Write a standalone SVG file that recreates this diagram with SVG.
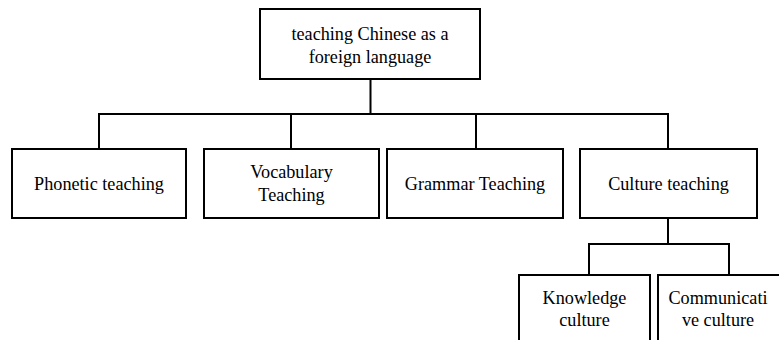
<svg xmlns="http://www.w3.org/2000/svg" width="779" height="340" viewBox="0 0 779 340">
<style>
.box{fill:#fff;stroke:#000;stroke-width:2}
.ln{fill:none;stroke:#000;stroke-width:2}
text{font-family:'Liberation Serif','Times New Roman',serif;font-size:18.2px;fill:#000;text-anchor:middle;dominant-baseline:central}
</style>
<rect width="779" height="340" fill="#fff"/>
<g id="connectors">
<path class="ln" d="M370.5 79V114M99 149V114H668V149M291 114V149M476 114V149"/>
<path class="ln" d="M668 218V244M589 275V244H729V275"/>
</g>
<g id="root"><rect class="box" x="260" y="9" width="220" height="70"/><text x="370" y="34">teaching Chinese as a</text><text x="370" y="57">foreign language</text></g>
<g id="phonetic"><rect class="box" x="12" y="149" width="174" height="69"/><text x="99" y="183.5">Phonetic teaching</text></g>
<g id="vocabulary"><rect class="box" x="204" y="149" width="175" height="69"/><text x="291.5" y="172">Vocabulary</text><text x="291.5" y="195">Teaching</text></g>
<g id="grammar"><rect class="box" x="387" y="149" width="176" height="69"/><text x="475" y="183.5">Grammar Teaching</text></g>
<g id="culture"><rect class="box" x="580" y="149" width="177" height="69"/><text x="668.5" y="183.5">Culture teaching</text></g>
<g id="knowledge"><rect class="box" x="519" y="275" width="131" height="70"/><text x="584.5" y="298">Knowledge</text><text x="584.5" y="320">culture</text></g>
<g id="communicative"><rect class="box" x="658" y="275" width="140" height="70"/><text x="718" y="298">Communicati</text><text x="718" y="320">ve culture</text></g>
</svg>
